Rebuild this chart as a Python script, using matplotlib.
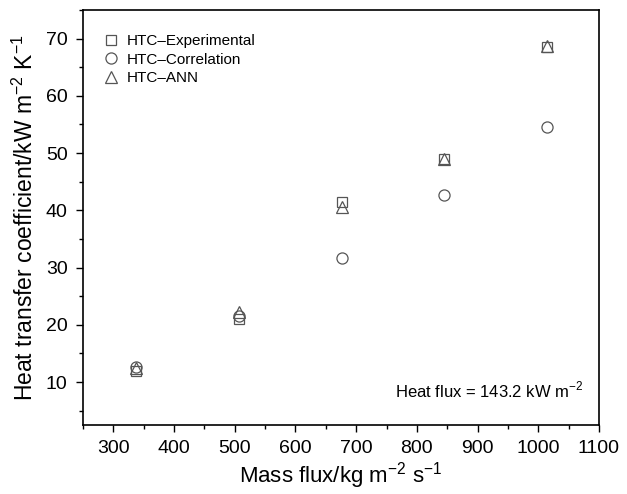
import matplotlib
matplotlib.use("Agg")
import matplotlib.pyplot as plt
from matplotlib.ticker import MultipleLocator

plt.rcParams['font.family'] = ['Liberation Sans', 'DejaVu Sans']
plt.rcParams['mathtext.fontset'] = 'custom'
plt.rcParams['mathtext.rm'] = 'Liberation Sans'

mass_flux = [337, 507, 676, 845, 1014]
htc_exp = [12.0, 21.0, 41.5, 49.0, 68.6]
htc_corr = [12.6, 21.6, 31.7, 42.7, 54.5]
htc_ann = [12.4, 22.2, 40.5, 49.0, 68.7]

grey = '#555555'

fig = plt.figure(figsize=(6.27, 4.94), dpi=100)
ax = fig.add_axes([0.1324, 0.1397, 0.8229, 0.8401])

ax.plot(mass_flux, htc_exp, linestyle='none', marker='s', markersize=7,
        mfc='none', mec=grey, mew=0.9, label='HTC\u2013Experimental')
ax.plot(mass_flux, htc_corr, linestyle='none', marker='o', markersize=8,
        mfc='none', mec=grey, mew=0.9, label='HTC\u2013Correlation')
ax.plot(mass_flux, htc_ann, linestyle='none', marker='^', markersize=9,
        mfc='none', mec=grey, mew=0.9, label='HTC\u2013ANN')

ax.set_xlim(250, 1100)
ax.set_ylim(2.5, 75)
ax.xaxis.set_major_locator(MultipleLocator(100))
ax.xaxis.set_minor_locator(MultipleLocator(50))
ax.yaxis.set_major_locator(MultipleLocator(10))
ax.yaxis.set_minor_locator(MultipleLocator(5))
ax.set_yticks([10, 20, 30, 40, 50, 60, 70])
ax.tick_params(which='both', direction='out', labelsize=14, width=1.0, pad=6)
ax.tick_params(which='major', length=5)
ax.tick_params(which='minor', length=3)
for s in ax.spines.values():
    s.set_linewidth(1.2)

ax.set_xlabel('Mass flux/kg m$^{-2}$ s$^{-1}$', fontsize=16, labelpad=2)
ax.set_ylabel('Heat transfer coefficient/kW m$^{-2}$ K$^{-1}$', fontsize=16.5, labelpad=6)

leg = ax.legend(loc='upper left', bbox_to_anchor=(0.01, 0.975), frameon=False,
                fontsize=11, handletextpad=0.4, labelspacing=0.3,
                handlelength=1.2)

ax.text(0.969, 0.084, 'Heat flux = 143.2 kW m$^{-2}$', transform=ax.transAxes,
        ha='right', va='center', fontsize=12)

fig.savefig('out.png', dpi=100)
